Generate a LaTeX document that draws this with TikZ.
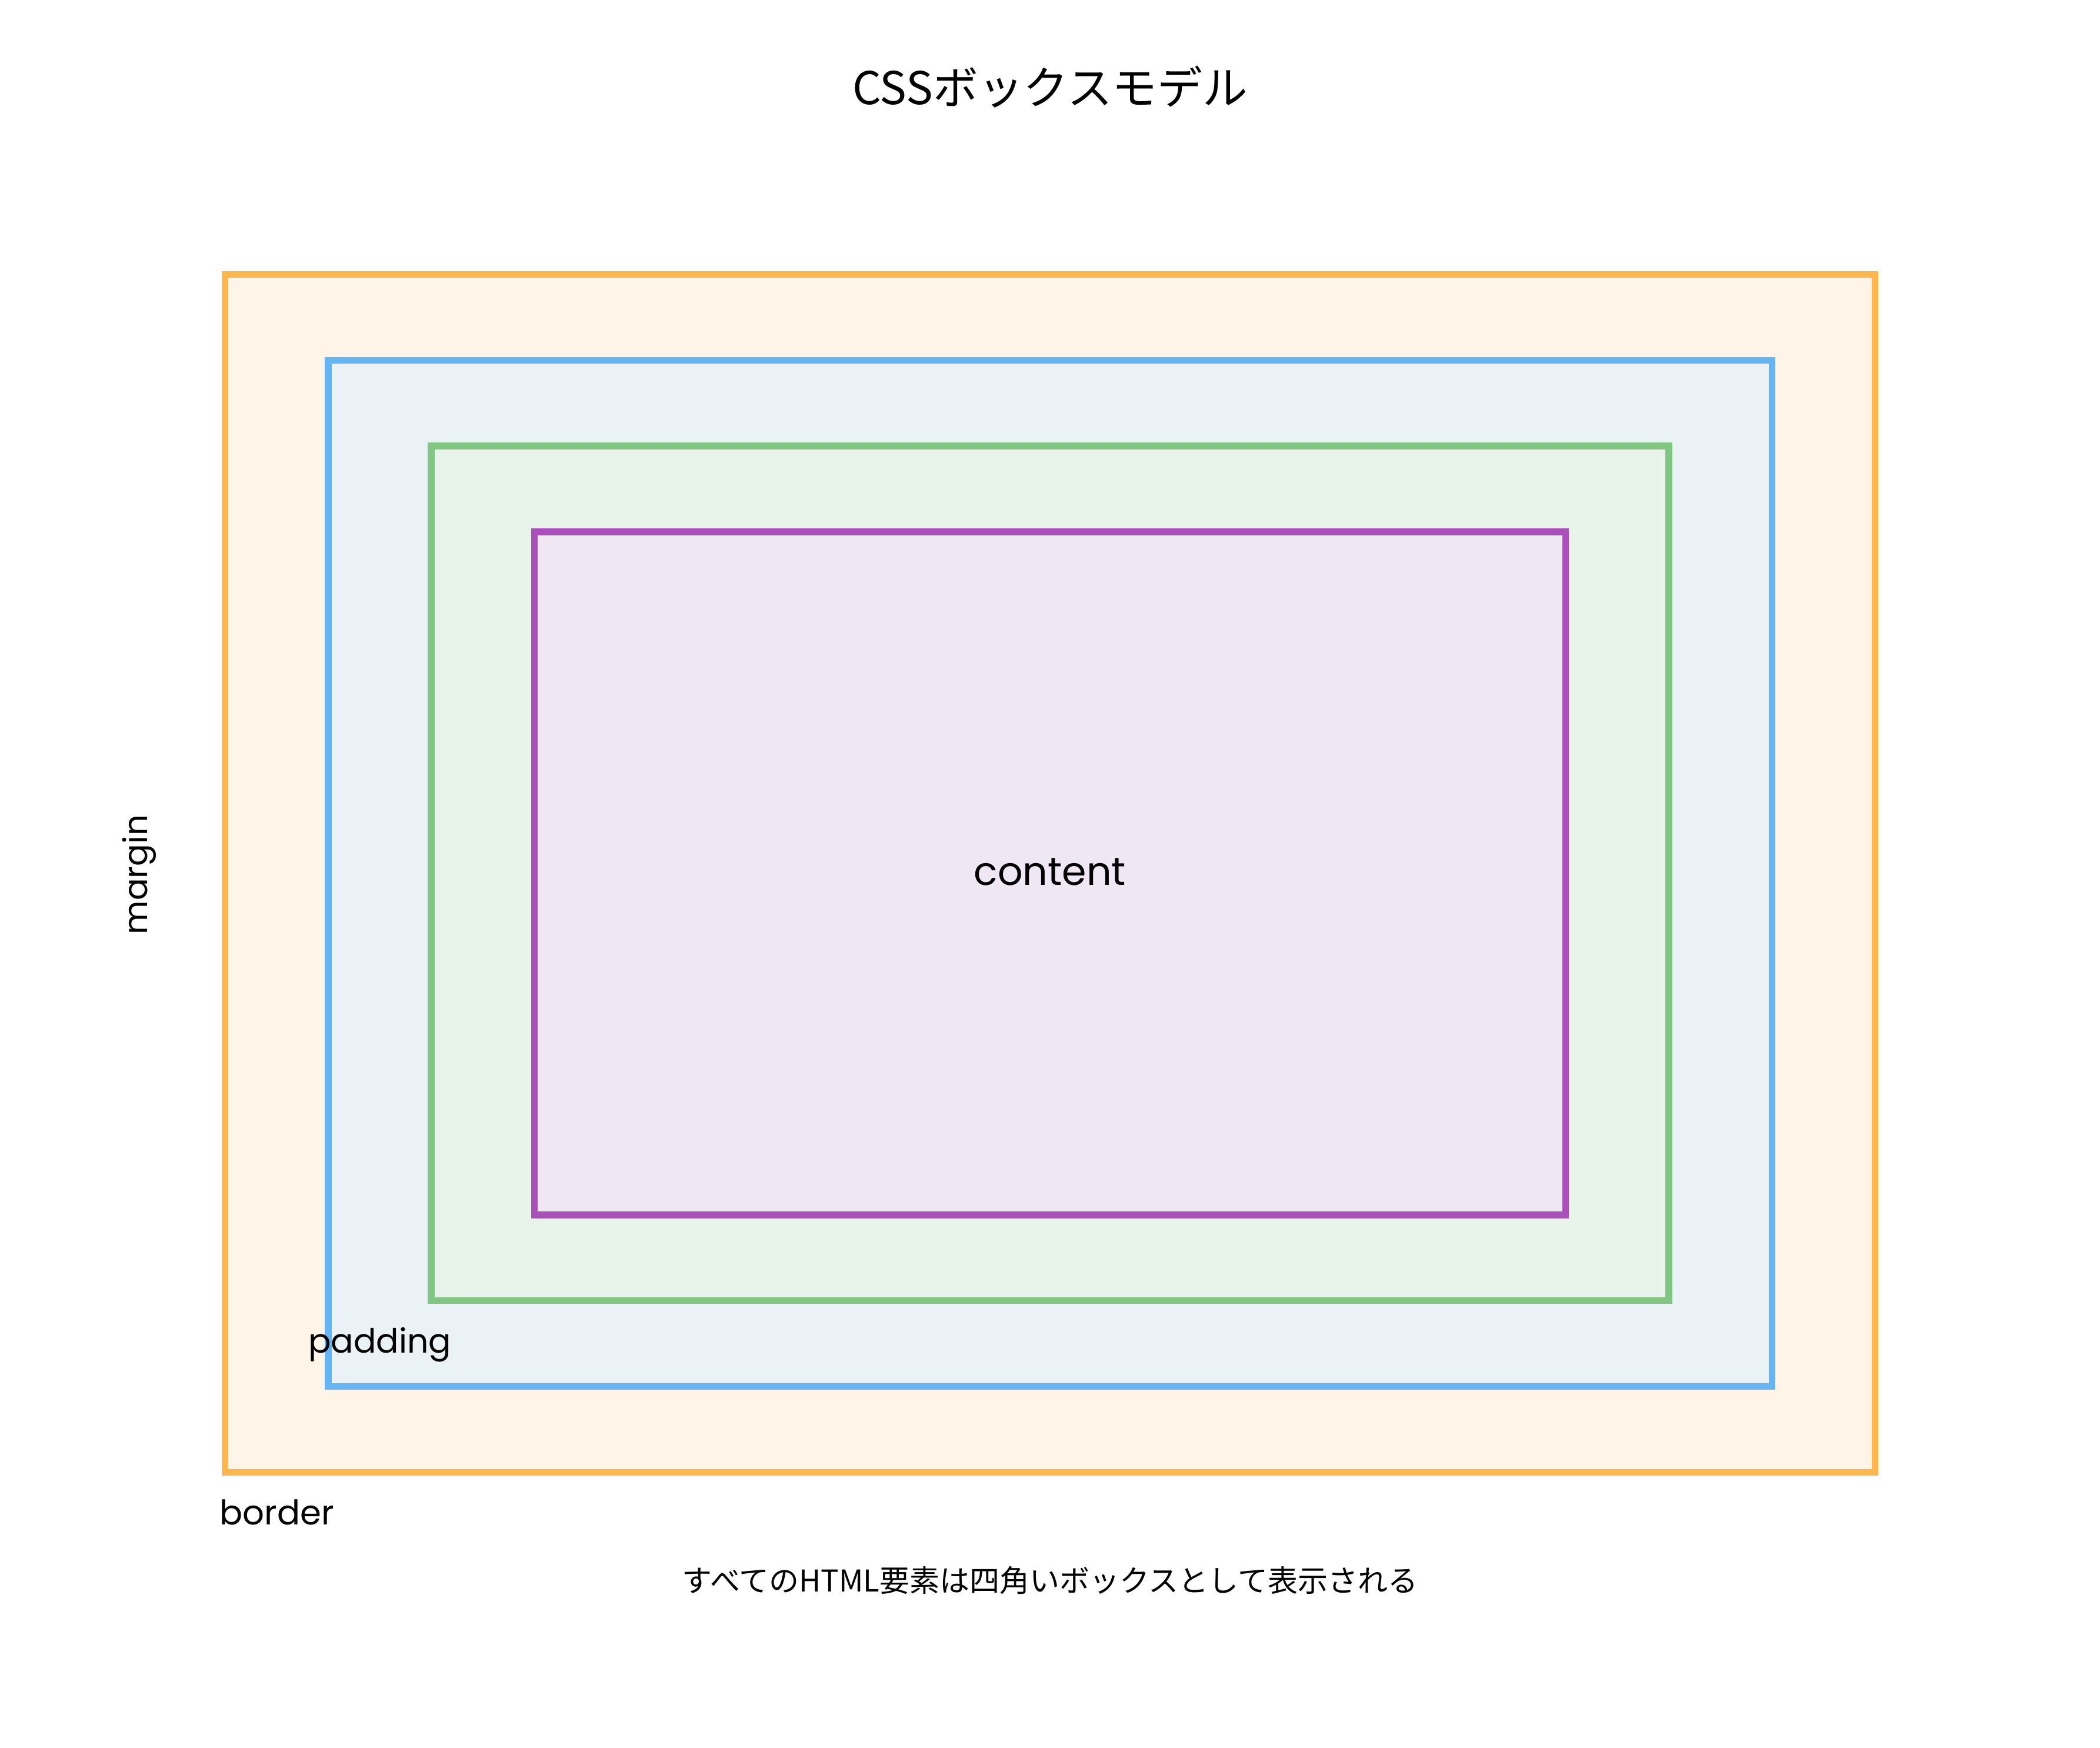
\documentclass[tikz,border=0pt]{standalone}
\usepackage{fontspec}
\setmainfont{Poppins}
\newfontfamily\jpfont{Noto Sans CJK JP}
\definecolor{orS}{HTML}{FFB74D}
\definecolor{orF}{HTML}{FFF4E8}
\definecolor{blS}{HTML}{64B5F6}
\definecolor{blF}{HTML}{EAF2F5}
\definecolor{grS}{HTML}{81C784}
\definecolor{grF}{HTML}{E8F3EA}
\definecolor{puS}{HTML}{AB4FBD}
\definecolor{puF}{HTML}{EFE7F3}
\tikzset{
  layer/.style n args={4}{draw=#1, fill=#2, line width=5pt, minimum width=#3, minimum height=#4, inner sep=0pt, outer sep=0pt},
  lbl/.style={font=\fontsize{#1}{#1}\selectfont, inner sep=0pt, text=black},
  jp/.style={font=\jpfont\fontsize{#1}{#1}\selectfont, inner sep=0pt, text=black}
}
\begin{document}
\begin{tikzpicture}[x=1pt,y=-1pt]
\useasboundingbox (0,0) rectangle (1568,1304.5);
\node[layer={orS}{orF}{1232pt}{894pt}] (marginbox) at (784,652) {};
\node[layer={blS}{blF}{1078pt}{766pt}] (borderbox) at (784,652) {};
\node[layer={grS}{grF}{924pt}{638pt}] (paddingbox) at (784,652) {};
\node[layer={puS}{puF}{770pt}{510pt}] (contentbox) at (784,652) {};
\node[jp=33.7] (title) at (784,65) {CSSボックスモデル};
\node[lbl=29.3] (content) at (784,651) {content};
\node[lbl=25, anchor=base west] (padding) at (230,1010) {padding};
\node[lbl=25.4, anchor=base west] (border) at (164,1138) {border};
\node[lbl=24.5, rotate=90] (margin) at (104,653) {margin};
\node[jp=22.4] (caption) at (784,1180) {すべてのHTML要素は四角いボックスとして表示される};
\end{tikzpicture}
\end{document}
